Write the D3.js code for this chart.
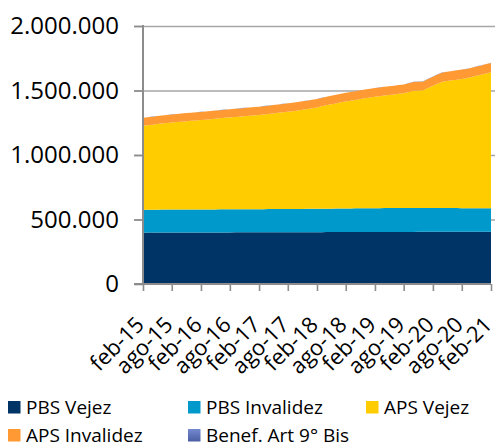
<!DOCTYPE html>
<html>
<head>
<meta charset="utf-8">
<script src="https://cdn.jsdelivr.net/npm/d3@7"></script>
<style>
  body { margin: 0; background: #fff; }
  svg { display: block; font-family: "Open Sans", sans-serif; }
</style>
</head>
<body>
<div id="chart"></div>
<script>
// monthly categories, feb-15 .. feb-21
const months = [
  "2015-02","2015-03","2015-04","2015-05","2015-06","2015-07","2015-08","2015-09","2015-10","2015-11","2015-12",
  "2016-01","2016-02","2016-03","2016-04","2016-05","2016-06","2016-07","2016-08","2016-09","2016-10","2016-11","2016-12",
  "2017-01","2017-02","2017-03","2017-04","2017-05","2017-06","2017-07","2017-08","2017-09","2017-10","2017-11","2017-12",
  "2018-01","2018-02","2018-03","2018-04","2018-05","2018-06","2018-07","2018-08","2018-09","2018-10","2018-11","2018-12",
  "2019-01","2019-02","2019-03","2019-04","2019-05","2019-06","2019-07","2019-08","2019-09","2019-10","2019-11","2019-12",
  "2020-01","2020-02","2020-03","2020-04","2020-05","2020-06","2020-07","2020-08","2020-09","2020-10","2020-11","2020-12",
  "2021-01","2021-02"
];

const pbsVejez = [
  398120, 398260, 398350, 398510, 398640, 398720, 398900, 398970, 399130, 399260, 399310, 399480, 399590,
  399640, 399810, 399870, 400020, 400150, 400190, 400340, 400420, 400510, 400650, 400690, 400830,
  400910, 401050, 401080, 401230, 401300, 401440, 401490, 401620, 401700, 401830, 401880, 402010,
  402090, 402230, 402290, 402410, 402520, 402580, 402760, 402870, 402950, 403100, 403140, 403290,
  403360, 403510, 403580, 403680, 403790, 403860, 404010, 404070, 404180, 404260, 404290, 404380,
  404410, 404490, 404520, 404610, 404630, 404700, 404740, 404790, 404830, 404900, 404920, 405010
];

const pbsInvalidez = [
  177880, 177910, 177990, 178020, 178060, 178110, 178150, 178180, 178240, 178270, 178310, 178360, 178400,
  178450, 178510, 178560, 178620, 178690, 178740, 178810, 178880, 178940, 179010, 179090, 179160,
  179300, 179440, 179590, 179740, 179900, 180050, 180210, 180360, 180520, 180680, 180840, 181000,
  181300, 181610, 181930, 182240, 182560, 182870, 183190, 183500, 183810, 184100, 184400, 184700,
  184720, 184760, 184790, 184800, 184810, 184830, 184850, 184820, 184790, 184760, 184730, 184700,
  184480, 184250, 184020, 183800, 183570, 183350, 183120, 182900, 182680, 182450, 182230, 182000
];

const apsVejez = [
  651000, 654800, 658700, 663500, 667300, 671200, 675000, 677800, 680700, 684500, 687300, 690200, 693000,
  695800, 699700, 702500, 705300, 709200, 712000, 714800, 717700, 721500, 724300, 727200, 730000,
  733800, 737500, 741300, 746000, 749800, 754500, 758300, 763000, 768800, 773500, 779300, 785000,
  793600, 801200, 808800, 815300, 822900, 829500, 835100, 840700, 847300, 852800, 858400, 864000,
  867900, 872800, 876700, 880600, 885500, 889500, 899400, 909300, 911200, 913100, 931000, 947900,
  964100, 979200, 984400, 990600, 995700, 1001900, 1007100, 1016300, 1026400, 1034600, 1044800, 1054000
];

const apsInvalidez = [
  62010, 62080, 62230, 62290, 62410, 62470, 62600, 62690, 62810, 62880, 63010, 63090, 63220,
  63280, 63410, 63490, 63600, 63690, 63820, 63880, 64010, 64090, 64220, 64280, 64410,
  64490, 64620, 64690, 64810, 64890, 65020, 65090, 65210, 65280, 65420, 65490, 65610,
  65820, 66010, 66220, 66390, 66610, 66790, 67020, 67090, 67210, 67290, 67420, 67500,
  67610, 67690, 67820, 67880, 68010, 68090, 68220, 68180, 68310, 68290, 69480, 70520,
  71310, 71790, 71920, 71980, 72120, 72180, 72310, 72390, 72520, 72580, 72710, 72790
];

const benefArt9 = [
  310, 320, 330, 330, 340, 350, 360, 360, 370, 380, 390, 390, 400,
  410, 420, 420, 430, 440, 450, 450, 460, 470, 480, 480, 490,
  500, 510, 510, 520, 530, 540, 540, 550, 560, 570, 570, 580,
  590, 600, 600, 610, 620, 630, 630, 640, 650, 660, 660, 670,
  680, 690, 690, 700, 710, 720, 720, 730, 740, 750, 750, 760,
  770, 780, 780, 790, 800, 810, 810, 820, 830, 840, 840, 850
];

const seriesNames = ["PBS Vejez", "PBS Invalidez", "APS Vejez", "APS Invalidez", "Benef. Art 9° Bis"];
const seriesColors = ["#003366", "#0099cc", "#ffcc00", "#ff9933", "url(#benefGrad)"];
const yTicks = [0, 500000, 1000000, 1500000, 2000000];
const xTickLabels = ["feb-15","ago-15","feb-16","ago-16","feb-17","ago-17","feb-18","ago-18","feb-19","ago-19","feb-20","ago-20","feb-21"];

const width = 495, height = 443;
const plotLeft = 143, plotRight = 491, plotTop = 26, plotBottom = 284;

const parseMonth = d3.timeParse("%Y-%m");
const allSeries = [pbsVejez, pbsInvalidez, apsVejez, apsInvalidez, benefArt9];

// build rows for the stack
const table = months.map((m, i) => {
  let row = { date: parseMonth(m) };
  seriesNames.forEach((name, k) => { row[name] = allSeries[k][i]; });
  return row;
});

let svg = d3.select("#chart").append("svg")
    .attr("width", width)
    .attr("height", height);

let defs = svg.append("defs");
let grad = defs.append("linearGradient")
    .attr("id", "benefGrad")
    .attr("x1", 0).attr("y1", 0).attr("x2", 0).attr("y2", 1);
grad.append("stop").attr("offset", "0%").attr("stop-color", "#7489d0");
grad.append("stop").attr("offset", "100%").attr("stop-color", "#4b5ea4");

let x = d3.scaleTime()
    .domain([table[0].date, table[table.length - 1].date])
    .range([plotLeft, plotRight]);

let y = d3.scaleLinear()
    .domain([0, 2000000])
    .range([plotBottom, plotTop]);

const esCL = d3.formatLocale({ decimal: ",", thousands: ".", grouping: [3], currency: ["$", ""] });
const fmt = esCL.format(",");

// gridlines (they run a little past the plot on both sides)
let grid = svg.append("g")
    .attr("transform", `translate(${plotLeft - 9},0)`)
    .call(d3.axisRight(y).tickValues(yTicks.filter(d => d > 0)).tickSize(361).tickFormat(""));
grid.select(".domain").remove();
grid.selectAll("line").attr("stroke", "#a6a6a6").attr("stroke-width", 1.6);

// stacked areas
let stack = d3.stack().keys(seriesNames);
let layers = stack(table);

let area = d3.area()
    .x(d => x(d.data.date))
    .y0(d => y(d[0]))
    .y1(d => y(d[1]));

svg.append("g")
  .selectAll("path")
  .data(layers)
  .enter()
  .append("path")
    .attr("d", area)
    .attr("fill", (d, i) => seriesColors[i]);

// y axis
let yAxis = svg.append("g")
    .attr("transform", `translate(${plotLeft},0)`)
    .call(d3.axisLeft(y).tickValues(yTicks).tickSize(9).tickPadding(15).tickFormat(fmt));
yAxis.select(".domain").remove();
yAxis.selectAll("line").attr("stroke", "#8c8c8c").attr("stroke-width", 1.6);
yAxis.selectAll("text")
    .attr("fill", "#000")
    .style("font-size", "24px")
    .style("font-family", "'Open Sans', sans-serif");

svg.append("line")
    .attr("x1", plotLeft).attr("x2", plotLeft)
    .attr("y1", plotTop - 1).attr("y2", plotBottom)
    .attr("stroke", "#8c8c8c")
    .attr("stroke-width", 2);

// x axis
const tickDates = table.filter((d, i) => i % 6 === 0).map(d => d.date);
let xAxis = svg.append("g")
    .attr("transform", `translate(0,${plotBottom})`)
    .call(d3.axisBottom(x).tickValues(tickDates).tickSize(7).tickSizeOuter(0)
      .tickFormat((d, i) => xTickLabels[i]));
xAxis.select(".domain").attr("stroke", "#8c8c8c").attr("stroke-width", 2)
    .attr("d", `M${plotLeft - 9},0H${plotRight}`);
xAxis.selectAll("line").attr("stroke", "#8c8c8c").attr("stroke-width", 1.6);
xAxis.selectAll("text")
    .attr("x", 0).attr("y", 0).attr("dy", 0)
    .attr("text-anchor", "end")
    .attr("transform", "translate(2,42) rotate(-45)")
    .attr("fill", "#000")
    .style("font-size", "22px")
    .style("font-family", "'Open Sans', sans-serif");

// legend
const legendX = [8, 188, 366];
const legendY = [401, 429];
let legend = svg.append("g")
  .selectAll("g")
  .data(seriesNames)
  .enter()
  .append("g")
    .attr("transform", (d, i) => `translate(${legendX[i % 3]},${legendY[Math.floor(i / 3)]})`);

legend.append("rect")
    .attr("width", 12.5)
    .attr("height", 12.5)
    .attr("fill", (d, i) => seriesColors[i]);

legend.append("text")
    .attr("x", 18)
    .attr("y", 12.5)
    .text(d => d)
    .style("font-size", "19px")
    .attr("fill", "#000");
</script>
</body>
</html>
